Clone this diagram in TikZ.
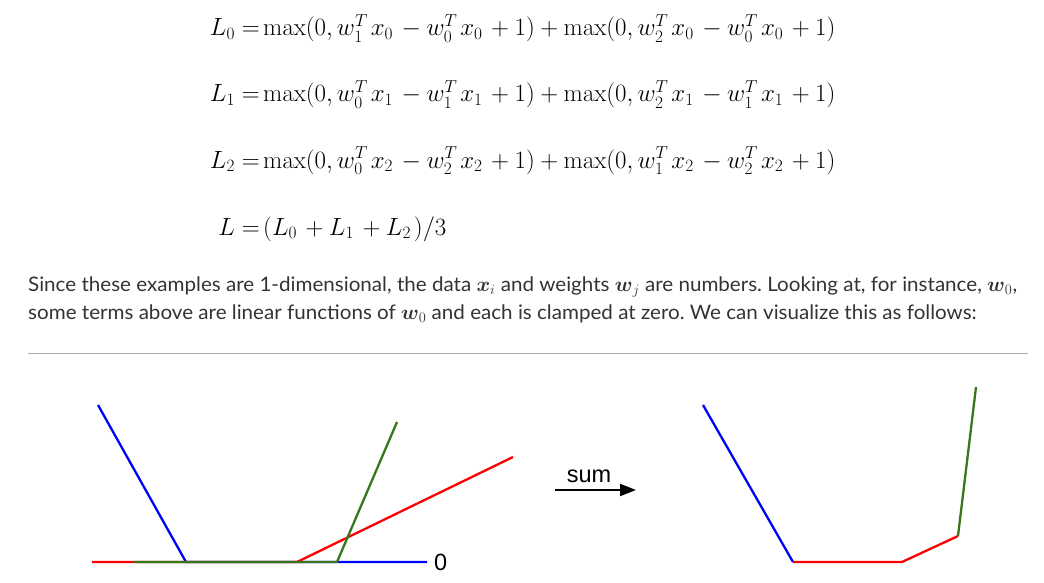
\documentclass[tikz,border=0pt]{standalone}
\usepackage{amsmath}
\usepackage[no-math]{fontspec}
\setmainfont{Liberation Sans}
\newfontfamily\bodyfont[FakeStretch=1.03]{Lato}
\usepackage{tikz}
\usetikzlibrary{arrows.meta,calc}
\definecolor{textgray}{RGB}{51,51,51}
\definecolor{rulegray}{RGB}{170,170,170}
\definecolor{dkgreen}{RGB}{56,118,29}
\newcommand\eqfont{\fontsize{25}{30}\selectfont}
\newcommand\rhsfont{\fontsize{25}{30}\selectfont\scriptspace=3.5pt\relax}
\tikzstyle{eqn} = [inner sep=0pt, anchor=base east, font=\eqfont]
\tikzstyle{eqnrhs} = [inner sep=0pt, anchor=base west, font=\rhsfont]
\tikzstyle{para} = [inner sep=0pt, anchor=base west, text=textgray, font=\bodyfont\fontsize{20}{24}\selectfont\frenchspacing]
\tikzstyle{curve} = [line width=2.3pt, line join=round]
\tikzstyle{arrow} = [draw, line width=2pt, -{Triangle[length=16pt,width=12pt]}]
\tikzstyle{lbl} = [inner sep=0pt, font=\fontsize{23.5}{26}\selectfont]

\begin{document}
\begin{tikzpicture}[x=1pt, y=-1pt]
      \useasboundingbox (0, 0) rectangle (1044, 583);
      \pgfmathsetmacro{\eqx}{260}
      \pgfmathsetmacro{\gap}{3}
      % loss terms
      \node [eqn] at (\eqx, 36) (l0) {$L_0 =$};
      \node [eqnrhs] at (\eqx + \gap, 36) (r0) {$\max(0, w_1^Tx_0 - w_0^Tx_0 + 1) + \max(0, w_2^Tx_0 - w_0^Tx_0 + 1)$};
      \node [eqn] at (\eqx, 102) (l1) {$L_1 =$};
      \node [eqnrhs] at (\eqx + \gap, 102) (r1) {$\max(0, w_0^Tx_1 - w_1^Tx_1 + 1) + \max(0, w_2^Tx_1 - w_1^Tx_1 + 1)$};
      \node [eqn] at (\eqx, 168) (l2) {$L_2 =$};
      \node [eqnrhs] at (\eqx + \gap, 168) (r2) {$\max(0, w_0^Tx_2 - w_2^Tx_2 + 1) + \max(0, w_1^Tx_2 - w_2^Tx_2 + 1)$};
      \node [eqn] at (\eqx, 235) (l3) {$L =$};
      \node [eqnrhs] at (\eqx + \gap, 235) (r3) {$(L_0 + L_1 + L_2)/3$};
      % text
      \node [para] at (28, 291) (t1) {Since these examples are 1-dimensional, the data $\boldsymbol{x}_i$ and weights $\boldsymbol{w}_j$ are numbers. Looking at, for instance, $\boldsymbol{w}_0$,};
      \node [para] at (28, 319) (t2) {some terms above are linear functions of $\boldsymbol{w}_0$ and each is clamped at zero. We can visualize this as follows:};
      \draw [rulegray, line width=1pt] (28, 353) -- (1028, 353);
      % left plot
      \coordinate (bt) at (98, 405);
      \coordinate (bk) at (186, 562);
      \coordinate (be) at (427, 562);
      \coordinate (rs) at (92, 562);
      \coordinate (rk) at (297, 562);
      \coordinate (rt) at (513, 457);
      \coordinate (gs) at (134, 562);
      \coordinate (gk) at (337, 562);
      \coordinate (gt) at (397, 422);
      \draw [curve, blue] (bt) -- (bk) -- (be);
      \draw [curve, red] (rs) -- (rk) -- (rt);
      \draw [curve, dkgreen] (gs) -- (gk) -- (gt);
      \node [lbl, anchor=west] at ($(be) + (7, 0)$) (zero) {0};
      % sum arrow
      \coordinate (a1) at (555, 490);
      \coordinate (a2) at (636, 490);
      \path [arrow] (a1) -- (a2);
      \node [lbl, anchor=base] at (589, 482) (sum) {sum};
      % right plot
      \coordinate (sbt) at (703, 405);
      \coordinate (sbk) at (793, 562);
      \coordinate (srk) at (902, 562);
      \coordinate (sgk) at (958, 536);
      \coordinate (sgt) at (976, 387);
      \draw [curve, blue] (sbt) -- (sbk);
      \draw [curve, red] (sbk) -- (srk) -- (sgk);
      \draw [curve, dkgreen] (sgk) -- (sgt);
    \end{tikzpicture}
\end{document}
